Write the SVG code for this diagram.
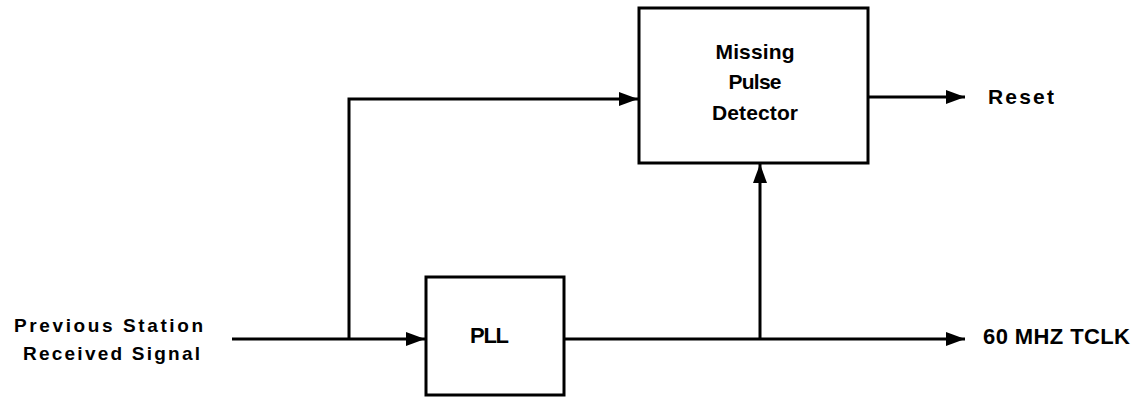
<svg xmlns="http://www.w3.org/2000/svg" width="1148" height="398" viewBox="0 0 1148 398">
<style>
.box{fill:#fff;stroke:#000;stroke-width:3}
.wire{fill:none;stroke:#000;stroke-width:3}
.t{font-family:"Liberation Sans",Arial,sans-serif;font-weight:bold;fill:#000}
</style>
<defs>
<marker id="ah" markerUnits="userSpaceOnUse" markerWidth="20" markerHeight="16" refX="19" refY="8" orient="auto">
<path d="M0,1 L19,8 L0,15 Z" fill="#000"/>
</marker>
</defs>
<rect width="1148" height="398" fill="#fff"/>
<g id="connectors">
<path class="wire" d="M232,339 L425,339" marker-end="url(#ah)"/>
<path class="wire" d="M349,339 L349,99 L638,99" marker-end="url(#ah)"/>
<path class="wire" d="M564,339 L965,339" marker-end="url(#ah)"/>
<path class="wire" d="M760,339 L760,164" marker-end="url(#ah)"/>
<path class="wire" d="M868,97 L965,97" marker-end="url(#ah)"/>
</g>
<g id="mpd">
<rect class="box" x="639" y="8" width="229" height="155"/>
<text class="t" font-size="21" x="755" y="59" text-anchor="middle" textLength="79" lengthAdjust="spacing">Missing</text>
<text class="t" font-size="21" x="755" y="89" text-anchor="middle" textLength="53" lengthAdjust="spacing">Pulse</text>
<text class="t" font-size="21" x="755" y="120" text-anchor="middle" textLength="86" lengthAdjust="spacing">Detector</text>
</g>
<g id="pll">
<rect class="box" x="426" y="277" width="138" height="118"/>
<text class="t" font-size="22" x="470" y="343" textLength="39" lengthAdjust="spacing">PLL</text>
</g>
<g id="input">
<text class="t" font-size="19" x="14" y="332" textLength="189" lengthAdjust="spacing">Previous  Station</text>
<text class="t" font-size="19" x="23" y="360" textLength="177" lengthAdjust="spacing">Received  Signal</text>
</g>
<g id="reset">
<text class="t" font-size="21" x="988" y="104" textLength="66" lengthAdjust="spacing">Reset</text>
</g>
<g id="tclk">
<text class="t" font-size="22" x="983" y="344" textLength="147" lengthAdjust="spacing">60 MHZ TCLK</text>
</g>
</svg>
